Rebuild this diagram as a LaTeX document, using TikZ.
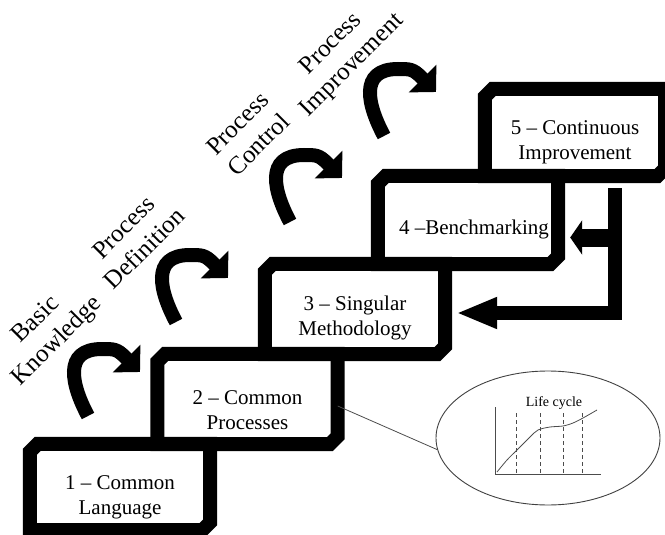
\documentclass[tikz,border=0pt]{standalone}
\usepackage{fontspec}
\setmainfont{Liberation Serif}
\usetikzlibrary{arrows.meta,shapes.geometric}

\newcommand{\drawstair}[1]{%
  \draw[stepframe] ([xshift=8pt]#1.north west) -- (#1.north east)
    -- ([yshift=8pt]#1.south east) -- ([xshift=-8pt]#1.south east)
    -- (#1.south west) -- ([yshift=-8pt]#1.north west) -- cycle;}

\tikzset{
  stepbox/.style={minimum width=180pt, inner sep=0pt},
  stepframe/.style={line width=14pt, line join=miter},
  steptext/.style={font=\fontsize{21}{25}\selectfont, align=center, inner sep=0pt},
  phase/.style={font=\fontsize{25}{30}\selectfont, align=center, inner sep=0pt, rotate=45},
  hook/.style={line width=14pt, -{Triangle[length=19pt,width=38pt]}},
  thinline/.style={line width=0.8pt, black!70},
}

\begin{document}
\begin{tikzpicture}[x=1pt,y=-1pt]%
    \useasboundingbox (0,0) rectangle (665,535);
    \clip (0,0) rectangle (665,535);
    % steps
    \node[stepbox, minimum height=86pt] (box1) at (120,487) {};
    \node[stepbox, minimum height=90pt] (box2) at (247.5,399) {};
    \node[stepbox, minimum height=90pt] (box3) at (355,309) {};
    \node[stepbox, minimum height=88pt] (box4) at (468,220) {};
    \node[stepbox, minimum height=87pt] (box5) at (575,132.5) {};
    \drawstair{box1}
    \drawstair{box2}
    \drawstair{box3}
    \drawstair{box4}
    \drawstair{box5}
    \node[steptext] (txt1) at ([yshift=-10pt]box1.center) {1 – Common\\Language};
    \node[steptext] (txt2) at ([yshift=-11pt]box2.center) {2 – Common\\Processes};
    \node[steptext] (txt3) at ([yshift=-9pt]box3.center) {3 – Singular\\Methodology};
    \node[steptext] (txt4) at ([xshift=6pt,yshift=-9pt]box4.center) {4 –Benchmarking};
    \node[steptext] (txt5) at ([yshift=-10pt]box5.center) {5 – Continuous\\Improvement};
    % curved arrows
    \draw[hook,shift={(140,372)}] (-52,44) .. controls (-68,14) and (-78,-23) .. (-38,-23) .. controls (-26,-23) and (-23,-23) .. (-15,-15) -- (0,0);
    \draw[hook,shift={(228,278)}] (-52,44) .. controls (-68,14) and (-78,-23) .. (-38,-23) .. controls (-26,-23) and (-23,-23) .. (-15,-15) -- (0,0);
    \draw[hook,shift={(342,178)}] (-52,44) .. controls (-68,14) and (-78,-23) .. (-38,-23) .. controls (-26,-23) and (-23,-23) .. (-15,-15) -- (0,0);
    \draw[hook,shift={(436,92)}] (-52,44) .. controls (-68,14) and (-78,-23) .. (-38,-23) .. controls (-26,-23) and (-23,-23) .. (-15,-15) -- (0,0);
    \node[phase] (ph1) at (47,331) {Basic\\Knowledge};
    \node[phase] (ph2) at (134,238) {Process\\Definition};
    \node[phase] (ph3) at (248,134) {Process\\Control};
    \node[phase] (ph4) at (342,55) {Process\\Improvement};
    % feedback
    \coordinate (fbtop) at (615,188);
    \coordinate (fbmid) at (615,237.5);
    \coordinate (into3) at ([xshift=11pt,yshift=-4pt]box3.east);
    \coordinate (into4) at ([xshift=12pt]box4.east);
    \draw[line width=14pt, line join=miter, -{Triangle[length=41pt,width=29pt]}] (fbtop) |- (into3);
    \draw[line width=18pt, -{Triangle[length=12pt,width=34pt]}] (fbmid) -- (into4 |- fbmid);
    % life cycle
    \node[draw=black!75, line width=0.9pt, ellipse, minimum width=224pt, minimum height=134pt] (lifecycle) at (548,438) {};
    \draw[thinline] ([yshift=-7pt]box2.east) -- (lifecycle.186);
    \draw[thinline] (495,407) |- (601,474);
    \draw[thinline, dash pattern=on 4pt off 3pt] (516,413) -- (516,474);
    \draw[thinline, dash pattern=on 4pt off 3pt] (540,413) -- (540,474);
    \draw[thinline, dash pattern=on 4pt off 3pt] (563,413) -- (563,474);
    \draw[thinline, dash pattern=on 4pt off 3pt] (582,413) -- (582,474);
    \draw[thinline] plot[smooth] coordinates {(497,472) (507,460) (517,450) (530,437) (538,430) (550,427) (563,426) (573,423) (583,418) (597,410)};
    \node[font=\fontsize{14}{16}\selectfont] (lctitle) at (554,403) {Life cycle};
\end{tikzpicture}
\end{document}
